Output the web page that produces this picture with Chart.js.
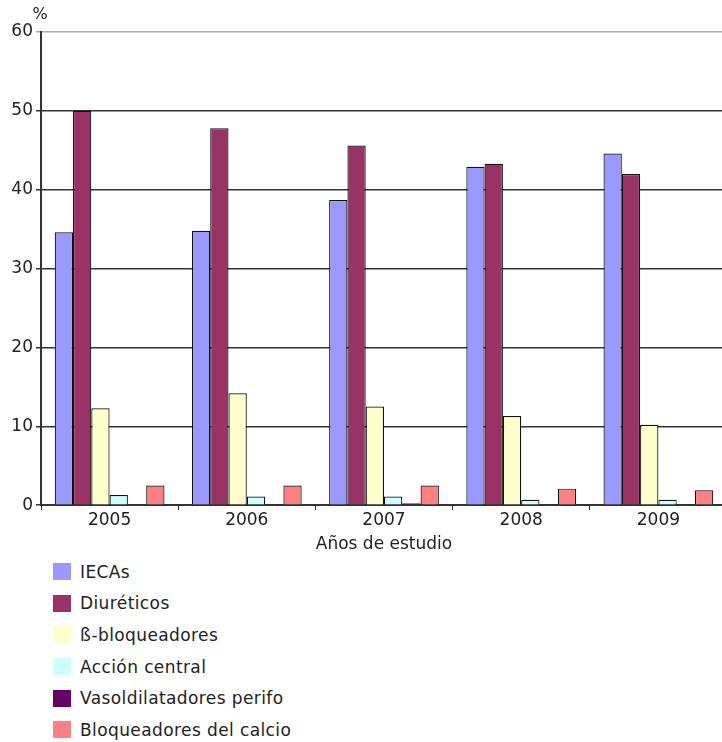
<!DOCTYPE html>
<html>
<head>
<meta charset="utf-8">
<script src="https://cdn.jsdelivr.net/npm/chart.js@4"></script>
<style>
  html, body { margin: 0; padding: 0; background: #fff; overflow: hidden; }
  #wrap { position: absolute; left: 0; top: 0; width: 727px; height: 555px; }
  #legend { position: absolute; left: 53px; top: 556px; font-family: "DejaVu Sans", Verdana, sans-serif; font-size: 17px; letter-spacing: 0.4px; color: #222; }
  #legend div { height: 31.6px; display: flex; align-items: center; }
  #legend span.box { display: inline-block; width: 18px; height: 17px; margin-right: 9px; }
</style>
</head>
<body>
<div id="wrap"><canvas id="chart"></canvas></div>
<div id="legend"></div>
<script>
// data
const years = ["2005", "2006", "2007", "2008", "2009"];
const seriesNames = ["IECAs", "Diuréticos", "ß-bloqueadores", "Acción central", "Vasoldilatadores perifo", "Bloqueadores del calcio"];
const seriesColors = ["#9999ff", "#993366", "#ffffcc", "#ccffff", "#660066", "#ff8080"];

const iecas = [34.6, 34.8, 38.7, 42.9, 44.6];
const diureticos = [50.0, 47.8, 45.6, 43.3, 42.0];
const betaBloq = [12.3, 14.2, 12.5, 11.3, 10.2];
const accionCentral = [1.3, 1.1, 1.1, 0.7, 0.7];
const vasodilatadores = [0, 0, 0.25, 0, 0];
const bloqCalcio = [2.5, 2.5, 2.5, 2.1, 1.9];

const yTicks = [0, 10, 20, 30, 40, 50, 60];

const allSeries = [iecas, diureticos, betaBloq, accionCentral, vasodilatadores, bloqCalcio];
const font = { family: "'DejaVu Sans', Verdana, sans-serif", size: 17 };

const datasets = allSeries.map(function (vals, i) {
  return {
    label: seriesNames[i],
    data: vals,
    backgroundColor: seriesColors[i],
    borderColor: "#111",
    borderWidth: 1.2,
    borderSkipped: "bottom"
  };
});

// "%" label above the y axis
const percentLabel = {
  id: "percentLabel",
  afterDraw(chart) {
    const c = chart.ctx;
    c.save();
    c.font = "16px 'DejaVu Sans', Verdana, sans-serif";
    c.fillStyle = "#222";
    c.textAlign = "center";
    c.textBaseline = "middle";
    c.fillText("%", chart.chartArea.left - 1, 15);
    c.restore();
  }
};

const chart = new Chart(document.getElementById("chart"), {
  type: "bar",
  data: { labels: years, datasets: datasets },
  options: {
    responsive: true,
    maintainAspectRatio: false,
    animation: false,
    layout: { padding: { top: 32, right: 0, left: 0, bottom: 0 } },
    plugins: { legend: { display: false }, tooltip: { enabled: false } },
    datasets: { bar: { categoryPercentage: 0.8, barPercentage: 1.0 } },
    scales: {
      x: {
        grid: { drawOnChartArea: false, drawTicks: true, tickLength: 5, offset: true, color: "#333" },
        border: { color: "#333", width: 2 },
        ticks: { font: font, color: "#222", padding: 0 },
        title: { display: true, text: "Años de estudio", font: font, color: "#222", padding: { top: 4, bottom: 0 } }
      },
      y: {
        min: 0,
        max: 60,
        afterBuildTicks(scale) { scale.ticks = yTicks.map(v => ({ value: v })); },
        afterFit(scale) { scale.width = 41; },
        grid: {
          color: ctx => (ctx.tick && ctx.tick.value === 60 ? "#aaa" : "#333"),
          lineWidth: 1.5,
          tickLength: 5
        },
        border: { color: "#333", width: 2 },
        ticks: { font: font, color: "#222", padding: 3 }
      }
    }
  },
  plugins: [percentLabel]
});

// legend, one entry per line
const legend = document.getElementById("legend");
seriesNames.forEach(function (name, i) {
  const row = document.createElement("div");
  const box = document.createElement("span");
  box.className = "box";
  box.style.background = seriesColors[i];
  row.appendChild(box);
  row.appendChild(document.createTextNode(name));
  legend.appendChild(row);
});
</script>
</body>
</html>
